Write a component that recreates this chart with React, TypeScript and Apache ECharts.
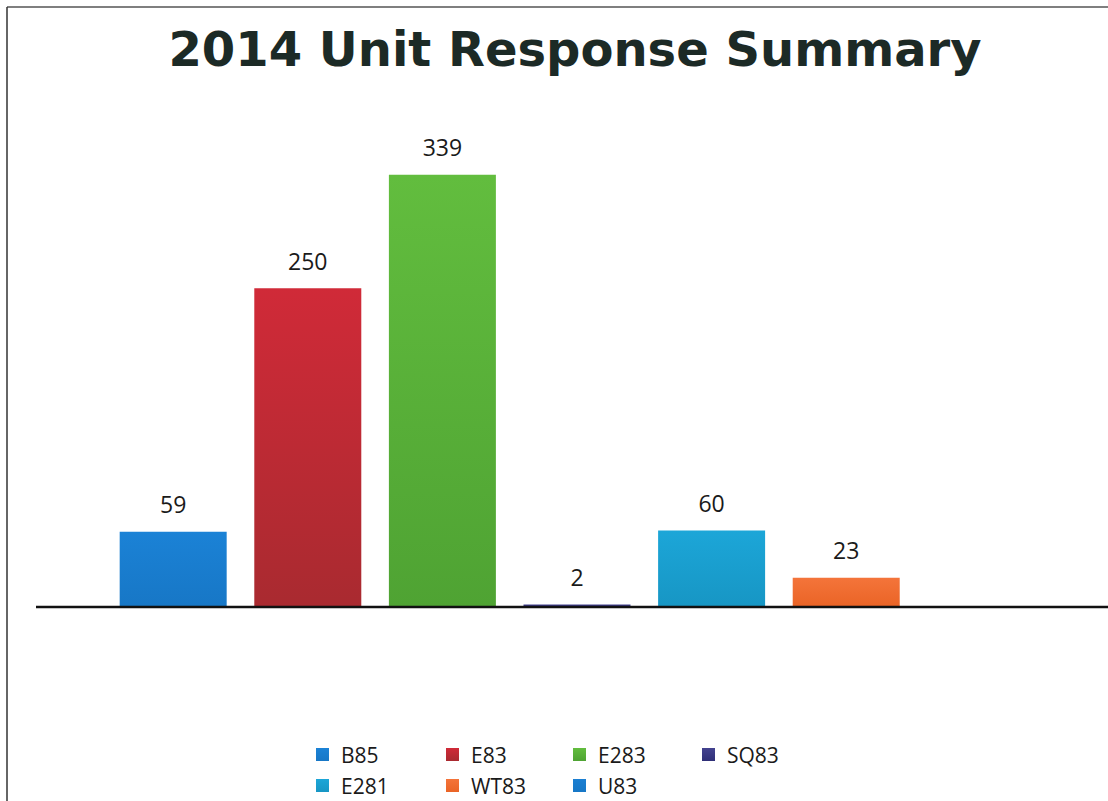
import React, { useEffect, useRef } from "react";
import * as echarts from "echarts";

const TITLE = "2014 Unit Response Summary";
const CATEGORY = ["2014"];
const SERIES_NAMES = ["B85", "E83", "E283", "SQ83", "E281", "WT83", "U83"];
const SERIES_VALUES = [59, 250, 339, 2, 60, 23, 0];
const SERIES_COLORS = [
  ["#1b82d6", "#1777c6"],
  ["#d02a38", "#a92a30"],
  ["#62bd3e", "#4fa333"],
  ["#43428f", "#2f2f77"],
  ["#1ca6d8", "#1796c4"],
  ["#f4743a", "#ea6426"],
  ["#1b7fd2", "#1777c6"],
];
const LEGEND_POS = [
  [316, 744], [446, 744], [573, 744], [702, 744],
  [316, 775], [446, 775], [573, 775],
];

export default function App() {
  const ref = useRef<HTMLDivElement>(null);
  useEffect(() => {
    const chart = echarts.init(ref.current!, null, { renderer: "svg" });
    const series = SERIES_NAMES.map((name, i) => ({
      name,
      type: "bar",
      data: [SERIES_VALUES[i]],
      barWidth: 107,
      barGap: "25.8%",
      itemStyle: {
        color: new echarts.graphic.LinearGradient(0, 0, 0, 1, [
          { offset: 0, color: SERIES_COLORS[i][0] },
          { offset: 1, color: SERIES_COLORS[i][1] },
        ]),
      },
      label: {
        show: i < 6,
        position: "top",
        distance: 16,
        fontFamily: "Open Sans",
        fontSize: 23,
        color: "#1a1a1a",
      },
    }));
    chart.setOption({
      animation: false,
      backgroundColor: "#ffffff",
      title: {
        text: TITLE,
        left: 570,
        top: 20,
        textAlign: "center",
        textStyle: {
          fontFamily: "DejaVu Sans",
          fontWeight: "bold",
          fontSize: 48,
          color: "#1c2a26",
        },
      },
      legend: SERIES_NAMES.map((name, i) => ({
        data: [name],
        left: LEGEND_POS[i][0],
        top: LEGEND_POS[i][1],
        padding: 0,
        itemWidth: 13,
        itemHeight: 13,
        icon: "rect",
        itemGap: 0,
        textStyle: {
          fontFamily: "Open Sans",
          fontSize: 21,
          color: "#1a1a1a",
          padding: [0, 0, 0, 7],
        },
      })),
      grid: { left: 46, top: 97, right: 0, bottom: 194 },
      xAxis: {
        type: "category",
        data: CATEGORY,
        axisLine: { show: false },
        axisTick: { show: false },
        axisLabel: { show: false },
      },
      yAxis: {
        type: "value",
        min: 0,
        max: 400,
        show: false,
        splitLine: { show: false },
      },
      graphic: [
        { type: "line", shape: { x1: 7, y1: 7, x2: 1108, y2: 7 }, style: { stroke: "#555555", lineWidth: 1.5 } },
        { type: "line", shape: { x1: 7, y1: 7, x2: 7, y2: 801 }, style: { stroke: "#333333", lineWidth: 1.5 } },
        { type: "line", z: 10, shape: { x1: 36, y1: 607, x2: 1108, y2: 607 }, style: { stroke: "#111111", lineWidth: 2.5 } },
      ],
      series,
    });
    return () => chart.dispose();
  }, []);
  return (
    <div
      ref={ref}
      style={{ position: "fixed", left: 0, top: 0, width: 1108, height: 801 }}
    />
  );
}
